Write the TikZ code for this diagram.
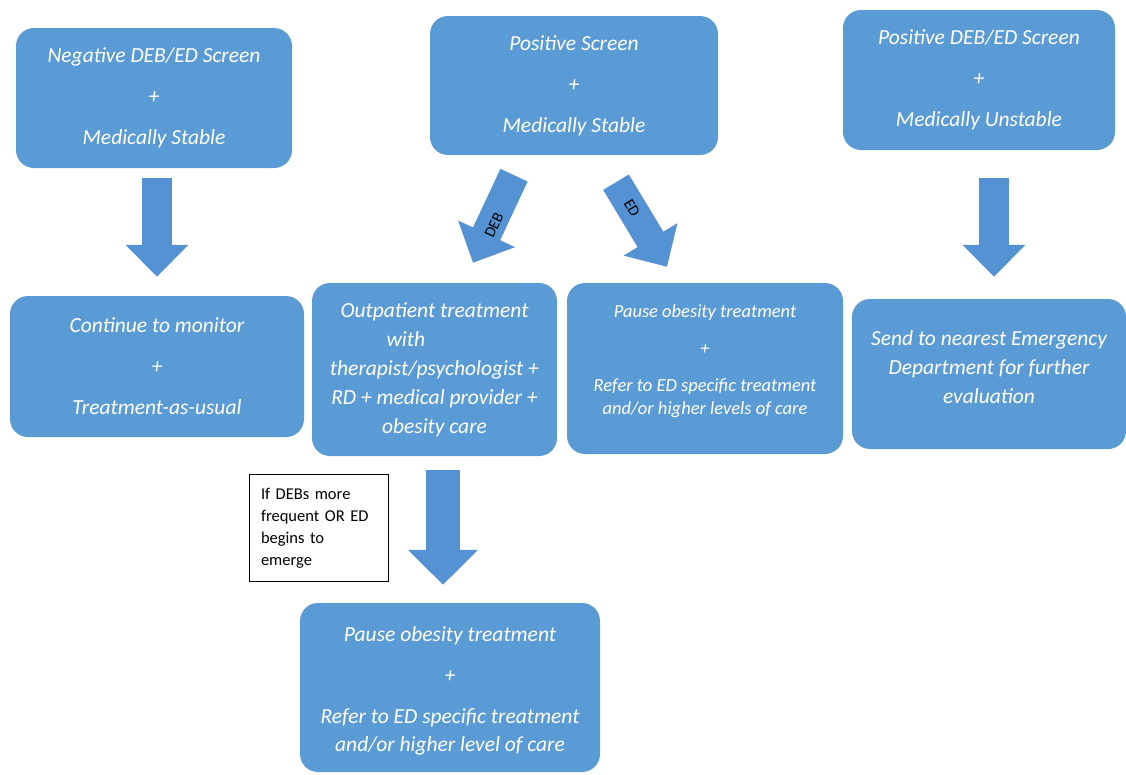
\documentclass[tikz,border=0pt]{standalone}
\usepackage{fontspec}
\setmainfont{Carlito}
\usetikzlibrary{arrows.meta,calc}
\definecolor{boxblue}{HTML}{5B9BD5}
\definecolor{arrblue}{HTML}{5592D3}
\begin{document}
\begin{tikzpicture}[x=1pt,y=-1pt,
  box/.style={fill=boxblue, draw=none, rounded corners=18pt, inner sep=0pt,
    text=white, align=center},
  boxtext/.style={text=white, align=center, inner sep=0pt},
  bigarrow/.style={draw=arrblue, line width=30pt,
    -{Triangle[width=61pt,length=32pt]}},
  bigarrowb/.style={draw=arrblue, line width=34pt,
    -{Triangle[width=68pt,length=35pt]}},
  arrlabel/.style={inner sep=0pt, font=\fontsize{15.5}{17}\selectfont}
]
\useasboundingbox (0,0) rectangle (1126,774);

% top row
\node[box, minimum width=276pt, minimum height=140pt,
  font=\fontsize{21.5}{41}\selectfont\itshape] (b1) at (154,98)
  {Negative DEB/ED Screen\\+\\Medically Stable};
\node[box, minimum width=288pt, minimum height=139pt,
  font=\fontsize{21.5}{41}\selectfont\itshape] (b2) at (574,85.5)
  {Positive Screen\\+\\Medically Stable};
\node[box, minimum width=272pt, minimum height=140pt,
  font=\fontsize{21.5}{41}\selectfont\itshape] (b3) at (979,80)
  {Positive DEB/ED Screen\\+\\Medically Unstable};

% middle row
\node[box, minimum width=294pt, minimum height=141pt,
  font=\fontsize{21.5}{41}\selectfont\itshape] (b4) at (157,366.5)
  {Continue to monitor\\+\\Treatment-as-usual};
\node[box, minimum width=245pt, minimum height=173pt,
  font=\fontsize{21.5}{29}\selectfont\itshape] (b5) at (434.5,369.5)
  {Outpatient treatment\\\makebox[96pt][l]{with}\\therapist/psychologist +\\RD + medical provider +\\obesity care};
\node[box, minimum width=276pt, minimum height=171pt] (b6) at (705,368.5) {};
\node[boxtext, font=\fontsize{18.5}{23}\selectfont\itshape] (t6) at ($(b6.center)+(0,-7)$)
  {Pause obesity treatment\\[14pt]+\\[14pt]Refer to ED specific treatment\\and/or higher levels of care};
\node[box, minimum width=274pt, minimum height=150pt] (b7) at (989,374) {};
\node[boxtext, font=\fontsize{21.5}{29}\selectfont\itshape] (t7) at ($(b7.center)+(0,-7)$)
  {Send to nearest Emergency\\Department for further\\evaluation};

% bottom
\node[box, minimum width=300pt, minimum height=169pt] (b8) at (450,687.5) {};
\node[boxtext, font=\fontsize{21.5}{41}\selectfont\itshape] (t8) at ($(b8.center)+(0,3)$)
  {Pause obesity treatment\\+\\Refer to ED specific treatment\\[-13pt]and/or higher level of care};

% note
\node[draw=black, line width=0.8pt, minimum width=139pt, minimum height=107pt,
  text width=115pt, inner xsep=12pt, inner ysep=0pt, align=left,
  font=\fontsize{16.5}{22}\selectfont] (note) at (318.5,528)
  {If DEBs more\\frequent OR ED\\begins to\\emerge};

% arrows
\coordinate (a1s) at ($(b1.south)+(3,10)$);
\coordinate (a1e) at ($(b4.north)+(0,-19)$);
\draw[bigarrow] (a1s) -- (a1e);
\coordinate (a3s) at ($(b3.south)+(15,28)$);
\coordinate (a3e) at ($(b7.north)+(5,-22)$);
\draw[bigarrow] (a3s) -- (a3e);
\coordinate (debs) at ($(b2.south)+(-60,20)$);
\coordinate (debe) at ($(b5.north)+(38.5,-20)$);
\draw[bigarrow] (debs) -- (debe);
\coordinate (eds) at ($(b2.south)+(42,27)$);
\coordinate (ede) at ($(b6.north)+(-38,-16)$);
\draw[bigarrow] (eds) -- (ede);
\coordinate (a5s) at ($(b5.south)+(8.5,14)$);
\coordinate (a5e) at ($(b8.north)+(-7,-18)$);
\draw[bigarrowb] (a5s) -- (a5e);

\node[arrlabel, rotate=65] (debl) at (494,225) {DEB};
\node[arrlabel, rotate=-59] (edl) at (632,208) {ED};
\end{tikzpicture}
\end{document}
